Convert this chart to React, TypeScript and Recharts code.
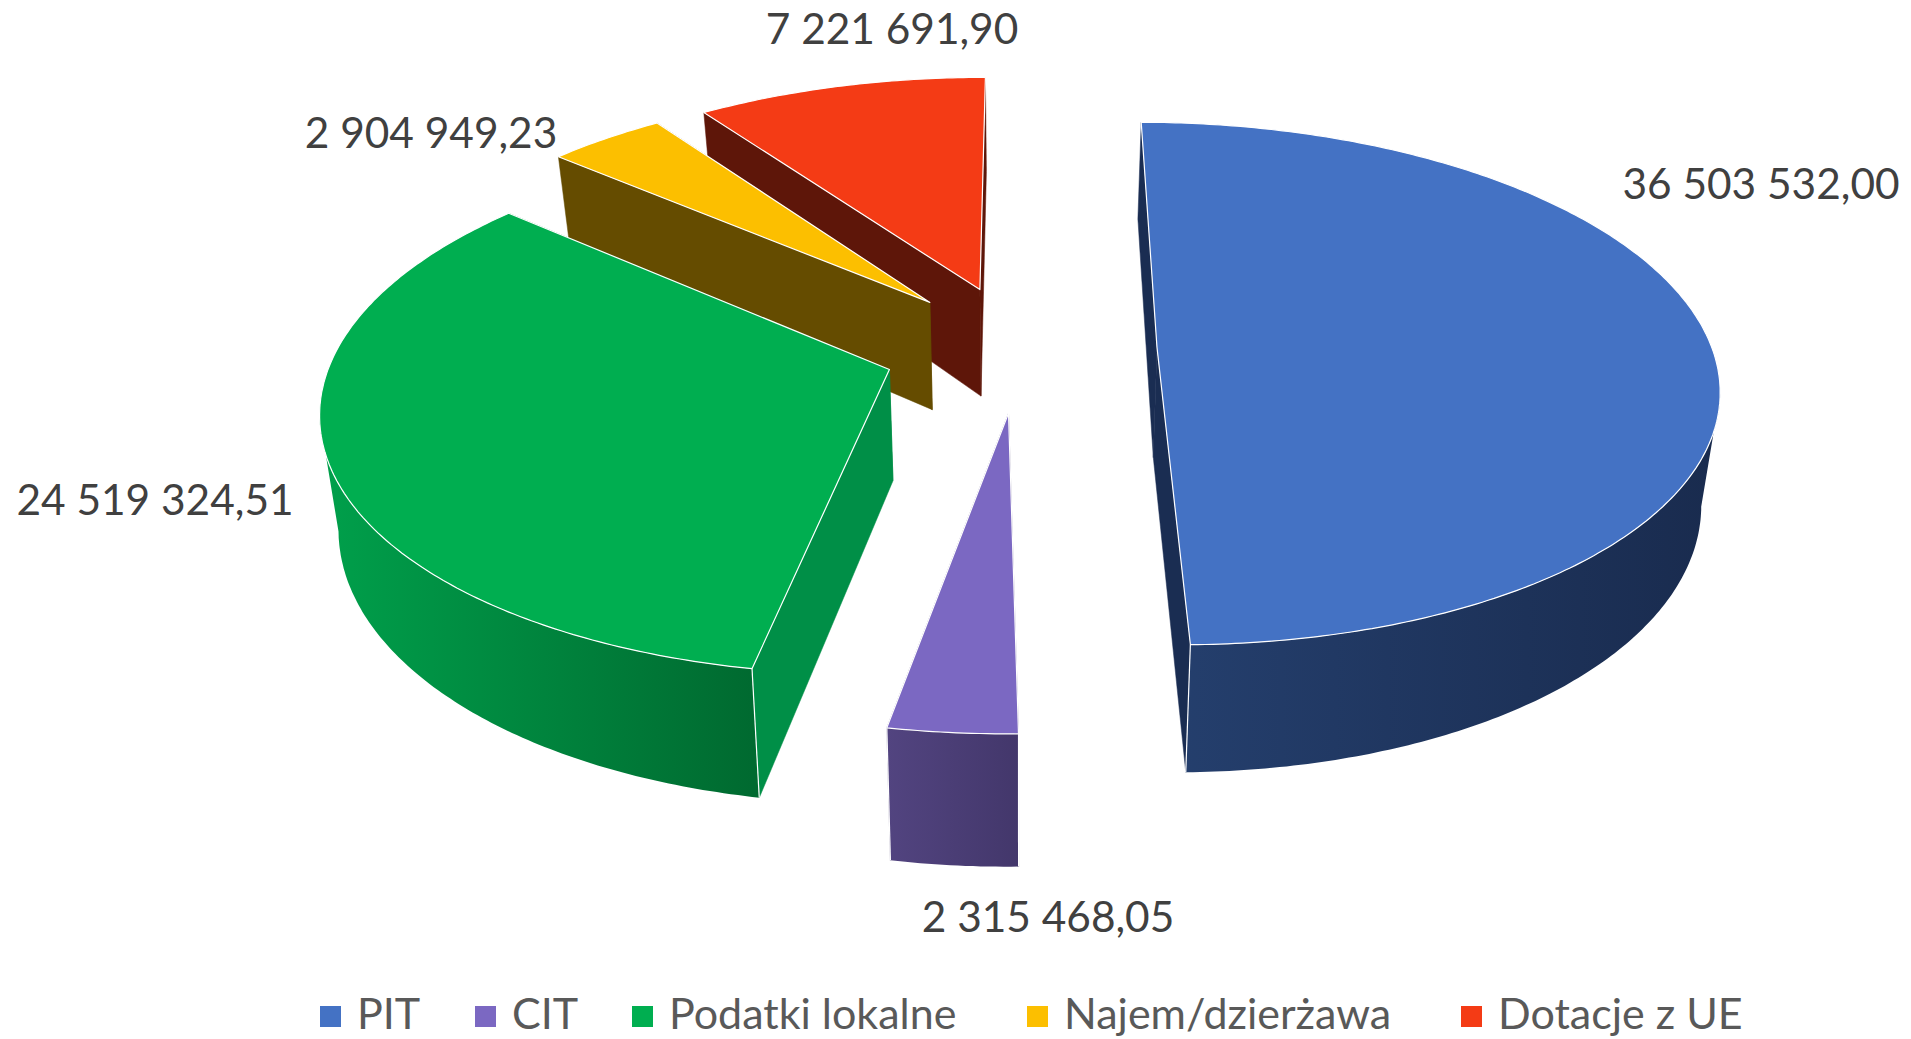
import { PieChart, Pie, Legend } from 'recharts'

const categories = ['PIT', 'CIT', 'Podatki lokalne', 'Najem/dzierżawa', 'Dotacje z UE']
const values = [36503532.0, 2315468.05, 24519324.51, 2904949.23, 7221691.9]
const colors = ['#4472c4', '#7b68c2', '#00ae50', '#fcbf00', '#f43b15']
// side wall shades: flat radial wall, then outer wall left -> right
const wallFlat = ['#1a2d52', '#43376b', '#008f47', '#654c00', '#5e1609']
const wallLeft = ['#25406f', '#524480', '#00a04b', '#654c00', '#5e1609']
const wallRight = ['#192b4e', '#43376b', '#006a30', '#4f3b00', '#4a1107']
const labelPos = [
  [1761, 182],
  [1048, 915],
  [155, 498],
  [431, 131],
  [892, 27],
]
const legendX = [320, 475, 632, 1027, 1461]

// slices are painted back to front, so the table runs backwards and the pie counter-clockwise
const pieData = categories
  .map((name, i) => ({ name, value: values[i], index: i }))
  .reverse()

const WIDTH = 1911
const HEIGHT = 1039
const CX = 1020
const CY = 348
const RADIUS = 555
const EXPLODE = 137
const DEPTH = 110
const TILT = 0.462
const PERSP = 0.138
const FLOOR_SHRINK = 0.973

const rad = (a: number) => (a * Math.PI) / 180

function project(cx: number, cy: number, r: number, x: number, y: number, down: boolean) {
  const s = 1 / (1 - (PERSP * y) / r)
  const k = down ? FLOOR_SHRINK : 1
  return [cx + x * s * k, cy + TILT * y * s + (down ? DEPTH * s : 0)]
}

const toPath = (pts: number[][]) =>
  'M' + pts.map((p) => `${p[0].toFixed(1)},${p[1].toFixed(1)}`).join('L') + 'Z'

function Slice3D(props: any) {
  const { cx, cy, outerRadius: r, startAngle, endAngle, payload } = props
  const idx = payload.index
  const mid = (startAngle + endAngle) / 2
  const ox = EXPLODE * Math.cos(rad(mid))
  const oy = -EXPLODE * Math.sin(rad(mid))

  const top: number[][] = []
  const bottom: number[][] = []
  const frontTop: number[][] = []
  const frontBottom: number[][] = []
  const steps = Math.max(8, Math.round(Math.abs(endAngle - startAngle) * 1.5))
  for (let i = 0; i <= steps; i++) {
    const a = rad(startAngle + ((endAngle - startAngle) * i) / steps)
    const x = ox + r * Math.cos(a)
    const y = oy - r * Math.sin(a)
    const t = project(cx, cy, r, x, y, false)
    const b = project(cx, cy, r, x, y, true)
    top.push(t)
    bottom.push(b)
    // only the near part of the rim has a visible outer wall
    if (Math.sin(a) < -0.17) {
      frontTop.push(t)
      frontBottom.push(b)
    }
  }
  const apexTop = project(cx, cy, r, ox, oy, false)
  const apexBottom = project(cx, cy, r, ox, oy, true)
  const gradId = `wall-${idx}`
  const xs = top.map((p) => p[0])
  const edge = { stroke: '#fff', strokeWidth: 1.2, strokeLinejoin: 'round' as const }
  const isNear = (angle: number) => Math.sin(rad(angle)) < 0

  return (
    <g>
      <defs>
        <linearGradient id={gradId} gradientUnits="userSpaceOnUse" x1={Math.min(...xs)} x2={Math.max(...xs)} y1={0} y2={0}>
          <stop offset="0%" stopColor={wallLeft[idx]} />
          <stop offset="100%" stopColor={wallRight[idx]} />
        </linearGradient>
      </defs>
      <path d={toPath([apexTop, top[0], bottom[0], apexBottom])} fill={wallFlat[idx]} stroke={wallFlat[idx]} strokeWidth={0.5} />
      <path d={toPath([apexTop, top[steps], bottom[steps], apexBottom])} fill={wallFlat[idx]} stroke={wallFlat[idx]} strokeWidth={0.5} />
      {frontTop.length > 1 && (
        <path d={toPath([...frontTop, ...[...frontBottom].reverse()])} fill={`url(#${gradId})`} stroke="none" />
      )}
      {isNear(startAngle) && <path d={`M${top[0][0]},${top[0][1]}L${bottom[0][0]},${bottom[0][1]}`} {...edge} />}
      {isNear(endAngle) && <path d={`M${top[steps][0]},${top[steps][1]}L${bottom[steps][0]},${bottom[steps][1]}`} {...edge} />}
      <path d={toPath([apexTop, ...top])} fill={colors[idx]} {...edge} />
    </g>
  )
}

const formatPl = (v: number) => {
  const [whole, frac] = v.toFixed(2).split('.')
  return whole.replace(/\B(?=(\d{3})+(?!\d))/g, ' ') + ',' + frac
}

function SliceLabel(props: any) {
  const idx = props.payload?.index ?? pieData[props.index].index
  return (
    <text
      x={labelPos[idx][0]}
      y={labelPos[idx][1]}
      textAnchor="middle"
      dominantBaseline="central"
      fill="#404040"
      fontSize={42.4}
      fontFamily="Lato"
    >
      {formatPl(values[idx])}
    </text>
  )
}

function ChartLegend() {
  return (
    <div style={{ position: 'relative', height: 46, fontFamily: 'Lato', fontSize: 43, color: '#595959', lineHeight: '46px', whiteSpace: 'nowrap' }}>
      {categories.map((name, i) => (
        <div key={name} style={{ position: 'absolute', left: legendX[i], top: 0, display: 'flex', alignItems: 'center' }}>
          <span style={{ width: 21, height: 21, flex: 'none', background: colors[i], marginRight: 16, position: 'relative', top: 3 }} />
          <span>{name}</span>
        </div>
      ))}
    </div>
  )
}

export default function App() {
  return (
    <div style={{ position: 'absolute', left: 0, top: 0, width: WIDTH, height: HEIGHT, overflow: 'hidden', background: '#fff' }}>
      <PieChart width={WIDTH} height={HEIGHT} margin={{ top: 0, right: 0, bottom: 0, left: 0 }}>
        <Pie
          data={pieData}
          dataKey="value"
          nameKey="name"
          cx={CX}
          cy={CY}
          outerRadius={RADIUS}
          startAngle={89.9}
          endAngle={449.9}
          stroke="none"
          shape={Slice3D}
          label={SliceLabel}
          labelLine={false}
          isAnimationActive={false}
        />
        <Legend
          content={ChartLegend}
          wrapperStyle={{ position: 'absolute', left: 0, top: 990, width: WIDTH, bottom: 'auto' }}
        />
      </PieChart>
    </div>
  )
}
